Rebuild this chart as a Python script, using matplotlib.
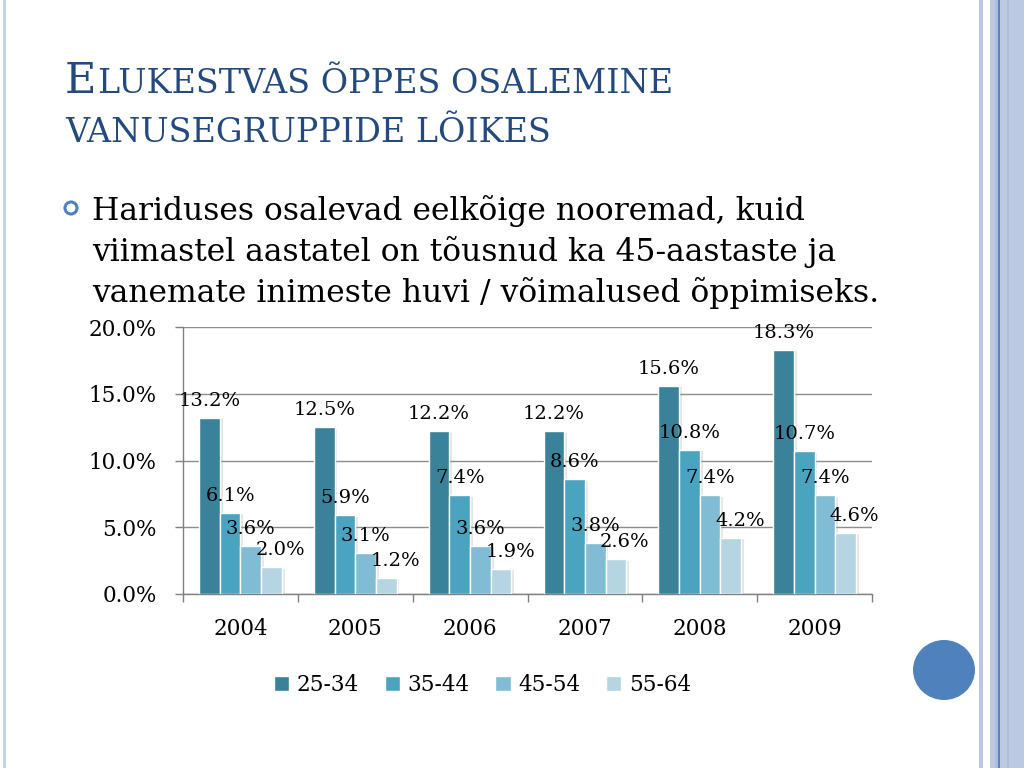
import matplotlib
matplotlib.use("Agg")
import matplotlib.pyplot as plt
import matplotlib.patches as mpatches
import matplotlib.patheffects as pe
import numpy as np

years = ["2004", "2005", "2006", "2007", "2008", "2009"]
groups = ["25-34", "35-44", "45-54", "55-64"]
v_25_34 = [13.2, 12.5, 12.2, 12.2, 15.6, 18.3]
v_35_44 = [6.1, 5.9, 7.4, 8.6, 10.8, 10.7]
v_45_54 = [3.6, 3.1, 3.6, 3.8, 7.4, 7.4]
v_55_64 = [2.0, 1.2, 1.9, 2.6, 4.2, 4.6]
series = [v_25_34, v_35_44, v_45_54, v_55_64]
colors = ["#3A8299", "#4AA4BF", "#80BCD3", "#B6D5E2"]
yticks = [0, 5, 10, 15, 20]

title_first = "E"
title_rest1 = "LUKESTVAS ÕPPES OSALEMINE"
title_line2 = "VANUSEGRUPPIDE LÕIKES"
bullet_lines = ["Hariduses osalevad eelkõige nooremad, kuid",
                "viimastel aastatel on tõusnud ka 45-aastaste ja",
                "vanemate inimeste huvi / võimalused õppimiseks."]

SERIF = "DejaVu Serif"
W, H = 1024, 768
fig = plt.figure(figsize=(W / 100, H / 100), dpi=100)
fig.patch.set_facecolor("white")

# Decorations
def px_rect(x0, x1, color, y0=0, y1=H):
    fig.patches.append(mpatches.Rectangle((x0 / W, 1 - y1 / H), (x1 - x0) / W, (y1 - y0) / H,
                                          transform=fig.transFigure, color=color, zorder=0, lw=0))

px_rect(3, 6, "#C5D1E6")
px_rect(979, 983, "#B9C7E0")
px_rect(990, 1024, "#BCC9E2")
px_rect(995, 998, "#AFBEDB")
px_rect(998, 999.5, "#5A82BC")
px_rect(1007, 1009, "#AEBDDA")
fig.patches.append(mpatches.Ellipse((944 / W, 1 - 670 / H), 62 / W, 60 / H, transform=fig.transFigure,
                                    color="#4F81BD", zorder=1, lw=0))

# Title (small caps emulation)
tcol = "#24497D"
tE = fig.text(65 / W, 1 - 93 / H, title_first, fontsize=31, family=SERIF, color=tcol, va="baseline")
renderer = fig.canvas.get_renderer()
e_right = tE.get_window_extent(renderer=renderer).x1
fig.text((e_right + 1) / W, 1 - 93 / H, title_rest1, fontsize=24, family=SERIF, color=tcol, va="baseline")
fig.text(65 / W, 1 - 142 / H, title_line2, fontsize=24, family=SERIF, color=tcol, va="baseline")

# Bullet
fig.patches.append(mpatches.Ellipse((71 / W, 1 - 208 / H), 12 / W, 12 / H, transform=fig.transFigure,
                                    facecolor="none", edgecolor="#4F81BD", lw=2.2, zorder=2))
for i, line in enumerate(bullet_lines):
    fig.text(92 / W, 1 - (220 + 41 * i) / H, line, fontsize=22.6, family=SERIF, color="black", va="baseline")

# Chart
ax = fig.add_axes([183 / W, 174 / H, (872 - 183) / W, (594 - 327) / H])
ax.set_xlim(-0.5, 5.5)
ax.set_ylim(0, 20)
x = np.arange(len(years))
bw = 0.18
offsets = [-0.27, -0.09, 0.09, 0.27]
label_dx = [0, 0, 0, 9]
shadow = [pe.SimplePatchShadow(offset=(2, -1), shadow_rgbFace="#999999", alpha=0.25), pe.Normal()]
for k, (vals, c, g) in enumerate(zip(series, colors, groups)):
    bars = ax.bar(x + offsets[k], vals, bw, color=c, edgecolor="white", linewidth=1.0, label=g, zorder=3)
    for b in bars:
        b.set_path_effects(shadow)
    for xi, v in zip(x + offsets[k], vals):
        ax.annotate(f"{v:.1f}%", xy=(xi, v), xytext=(label_dx[k], 17), textcoords="offset pixels",
                    ha="center", va="center", fontsize=14, family=SERIF, color="black", zorder=5)

ax.set_yticks(yticks)
ax.set_yticklabels([f"{t:.1f}%" for t in yticks], family=SERIF, fontsize=15.5)
ax.yaxis.grid(True, color="#8C8C8C", linewidth=1.0, zorder=0)
ax.set_axisbelow(True)
ax.set_xticks(np.arange(-0.5, 6.0, 1.0))
ax.set_xticklabels([])
ax.set_xticks(x, minor=True)
ax.set_xticklabels(years, minor=True, family=SERIF, fontsize=15.5)
ax.tick_params(axis="x", which="major", length=6, color="#808080", width=1)
ax.tick_params(axis="x", which="minor", length=0, pad=17)
ax.tick_params(axis="y", length=6, color="#808080", width=1, pad=13)
for s in ["top", "right"]:
    ax.spines[s].set_visible(False)
for s in ["left", "bottom"]:
    ax.spines[s].set_color("#808080")
    ax.spines[s].set_linewidth(1.0)

handles, labels = ax.get_legend_handles_labels()
leg = fig.legend(handles, labels, loc="center", bbox_to_anchor=(482.5 / W, 83 / H), ncol=4, frameon=False,
                 prop={"family": SERIF, "size": 15.5}, handlelength=0.7, handleheight=0.7,
                 handletextpad=0.35, columnspacing=1.2)
for h in leg.legend_handles:
    h.set_path_effects([])

fig.savefig("out.png", dpi=100)
